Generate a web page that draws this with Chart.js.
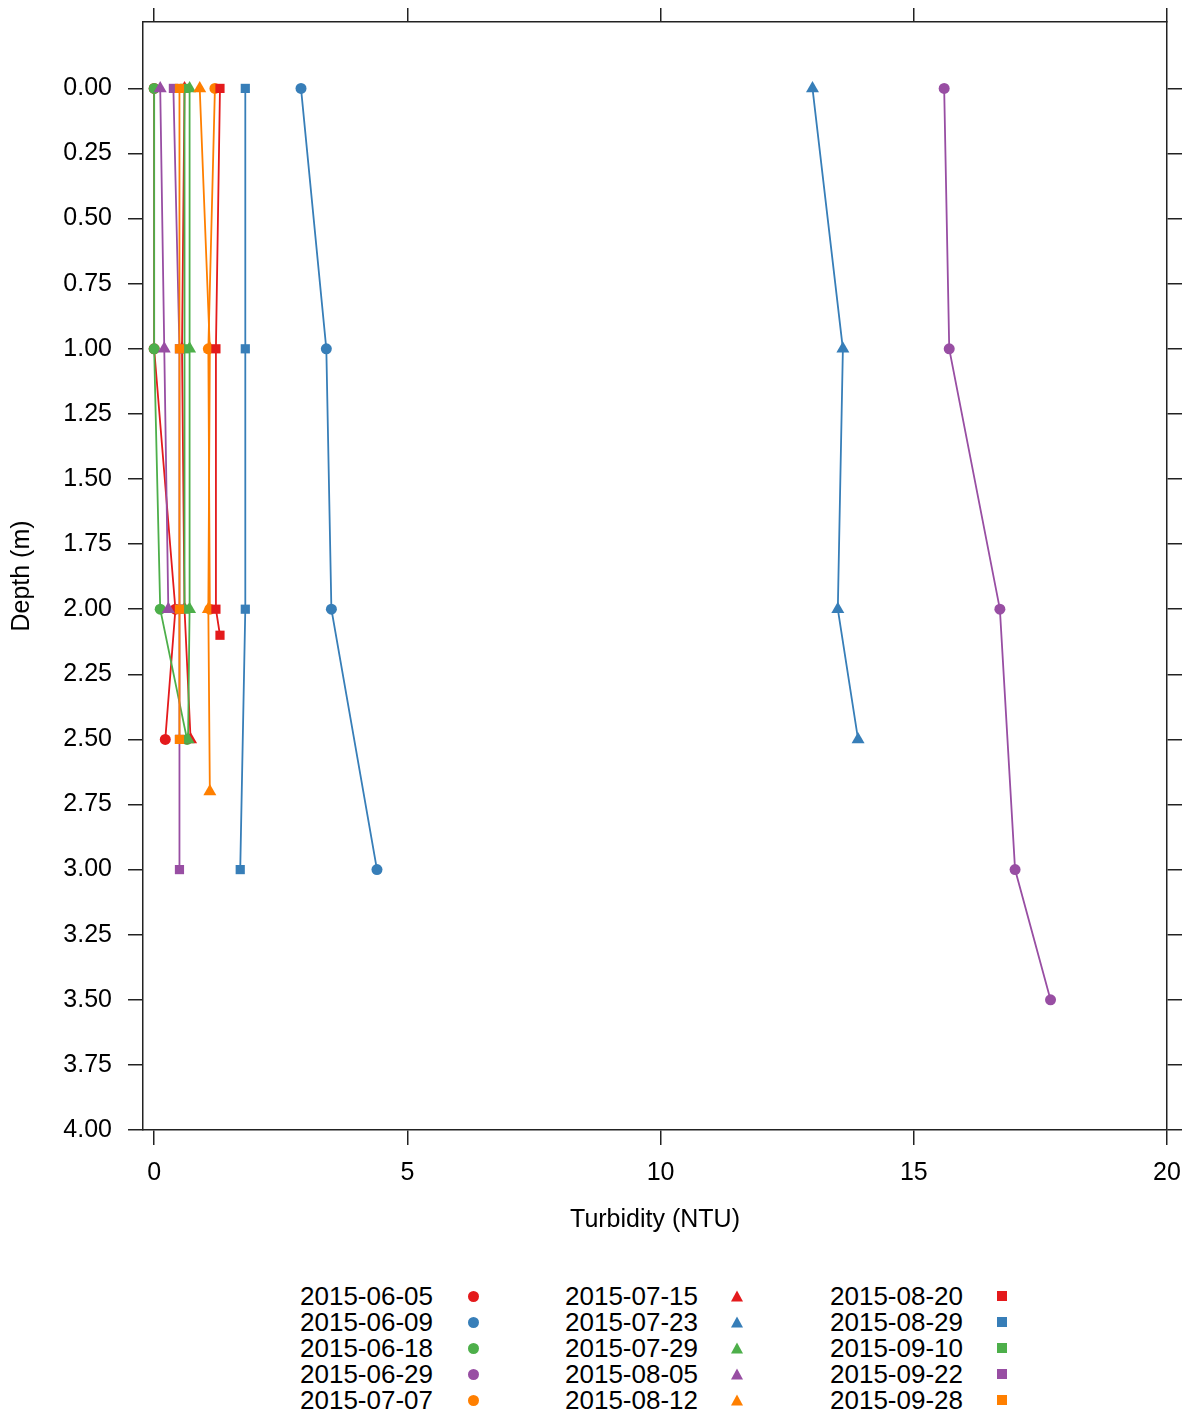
<!DOCTYPE html>
<html>
<head>
<meta charset="utf-8">
<script src="https://cdn.jsdelivr.net/npm/chart.js@4/dist/chart.umd.min.js"></script>
<style>
    body { margin: 0; background: #fff; }
    #page { position: relative; width: 1189px; height: 1416px; font-family: "Liberation Sans", Arial, sans-serif; }
    #chart { position: absolute; left: 0; top: 0; }
    .leg-text { position: absolute; left: 0; text-align: right; font-size: 26px; line-height: 26px; color: #000; white-space: nowrap; }
    .leg-mark { position: absolute; }
</style>
</head>
<body>
<div id="page">
    <canvas id="chart" width="1189" height="1250"></canvas>
    <div id="legend"></div>
</div>
<script>
const dates = [
    '2015-06-05', '2015-06-09', '2015-06-18', '2015-06-29', '2015-07-07',
    '2015-07-15', '2015-07-23', '2015-07-29', '2015-08-05', '2015-08-12',
    '2015-08-20', '2015-08-29', '2015-09-10', '2015-09-22', '2015-09-28'
];

const depth0605 = [0, 1, 2, 2.5];
const turb0605 = [0.0, 0.0, 0.42, 0.22];
const depth0609 = [0, 1, 2, 3];
const turb0609 = [2.9, 3.4, 3.5, 4.4];
const depth0618 = [0, 1, 2, 2.5];
const turb0618 = [0.0, 0.0, 0.12, 0.65];
const depth0629 = [0, 1, 2, 3, 3.5];
const turb0629 = [15.6, 15.7, 16.7, 17.0, 17.7];
const depth0707 = [0, 1, 2];
const turb0707 = [1.2, 1.07, 1.1];
const depth0715 = [0, 1, 2, 2.5];
const turb0715 = [0.6, 0.55, 0.6, 0.72];
const depth0723 = [0, 1, 2, 2.5];
const turb0723 = [13.0, 13.6, 13.5, 13.9];
const depth0729 = [0, 1, 2, 2.5];
const turb0729 = [0.7, 0.7, 0.7, 0.67];
const depth0805 = [0, 1, 2];
const turb0805 = [0.12, 0.2, 0.28];
const depth0812 = [0, 1, 2, 2.7];
const turb0812 = [0.9, 1.1, 1.07, 1.1];
const depth0820 = [0, 1, 2, 2.1];
const turb0820 = [1.3, 1.22, 1.22, 1.3];
const depth0829 = [0, 1, 2, 3];
const turb0829 = [1.8, 1.8, 1.8, 1.7];
const depth0910 = [0, 1, 2];
const turb0910 = [0.6, 0.6, 0.6];
const depth0922 = [0, 1, 2, 2.5, 3];
const turb0922 = [0.38, 0.5, 0.5, 0.5, 0.5];
const depth0928 = [0, 1, 2, 2.5];
const turb0928 = [0.5, 0.5, 0.5, 0.5];

const xTicks = [0, 5, 10, 15, 20];
const yTicks = [0, 0.25, 0.5, 0.75, 1, 1.25, 1.5, 1.75, 2, 2.25, 2.5, 2.75, 3, 3.25, 3.5, 3.75, 4];

const depths = [depth0605, depth0609, depth0618, depth0629, depth0707, depth0715, depth0723, depth0729,
    depth0805, depth0812, depth0820, depth0829, depth0910, depth0922, depth0928];
const turbs = [turb0605, turb0609, turb0618, turb0629, turb0707, turb0715, turb0723, turb0729,
    turb0805, turb0812, turb0820, turb0829, turb0910, turb0922, turb0928];

const palette = ['#E41A1C', '#377EB8', '#4DAF4A', '#984EA3', '#FF7F00'];
const shapes = ['circle', 'triangle', 'rect'];
const radii = { circle: 5.5, triangle: 7.5, rect: 6.5 };

const FONT = 'Liberation Sans';
const INK = '#222';

function setTicks(list) {
    return scale => { scale.ticks = list.map(v => ({ value: v })); };
}

// force a fixed axis thickness and drop the label overflow padding
function fixSize(prop, px) {
    return s => {
        s[prop] = px;
        s.paddingLeft = 0; s.paddingRight = 0; s.paddingTop = 0; s.paddingBottom = 0;
    };
}

function buildDatasets() {
    return dates.map((d, i) => {
        const color = palette[i % 5];
        const shape = shapes[Math.floor(i / 5)];
        return {
            label: d,
            data: depths[i].map((dep, k) => ({ x: turbs[i][k], y: dep })),
            showLine: true,
            borderColor: color,
            backgroundColor: color,
            borderWidth: 1.8,
            pointStyle: shape,
            pointRadius: radii[shape],
            pointBorderWidth: 0,
            order: -i
        };
    });
}

function renderLegend() {
    const box = document.getElementById('legend');
    const textRight = [433, 698, 963];
    const markX = [473, 737, 1002];
    const rowY = [1296, 1322, 1348, 1374, 1400];
    dates.forEach((d, i) => {
        const col = Math.floor(i / 5), row = i % 5;
        const color = palette[i % 5];
        const shape = shapes[col];

        const t = document.createElement('div');
        t.className = 'leg-text';
        t.style.width = textRight[col] + 'px';
        t.style.top = (rowY[row] - 13) + 'px';
        t.textContent = d;
        box.appendChild(t);

        const m = document.createElement('div');
        m.className = 'leg-mark';
        const s = shape === 'rect' ? 10 : (shape === 'triangle' ? 12 : 11);
        m.style.width = s + 'px';
        m.style.height = s + 'px';
        m.style.left = (markX[col] - s / 2) + 'px';
        m.style.top = (rowY[row] - s / 2) + 'px';
        m.style.background = color;
        if (shape === 'circle') m.style.borderRadius = '50%';
        if (shape === 'triangle') m.style.clipPath = 'polygon(50% 5%, 100% 95%, 0 95%)';
        box.appendChild(m);
    });
}

const gridOpts = (len) => ({ drawOnChartArea: false, drawTicks: true, tickLength: len, color: INK, lineWidth: 1.5 });
const borderOpts = { display: true, color: INK, width: 1.5 };

new Chart(document.getElementById('chart'), {
    type: 'scatter',
    data: { datasets: buildDatasets() },
    options: {
        responsive: false,
        animation: false,
        layout: { padding: 0 },
        plugins: { legend: { display: false }, tooltip: { enabled: false } },
        scales: {
            x: {
                type: 'linear', position: 'bottom', min: -0.22, max: 20,
                afterBuildTicks: setTicks(xTicks),
                afterFit: fixSize('height', 120),
                grid: gridOpts(15), border: borderOpts,
                ticks: { color: '#000', font: { family: FONT, size: 25 }, padding: 13, maxRotation: 0 },
                title: { display: true, text: 'Turbidity (NTU)', color: '#000', font: { family: FONT, size: 25 }, padding: { top: 0, bottom: 15 } }
            },
            x2: {
                type: 'linear', position: 'top', min: -0.22, max: 20,
                afterBuildTicks: setTicks(xTicks),
                afterFit: fixSize('height', 22),
                grid: gridOpts(14), border: borderOpts,
                ticks: { display: false }
            },
            y: {
                type: 'linear', position: 'left', reverse: true, min: -0.255, max: 4,
                afterBuildTicks: setTicks(yTicks),
                afterFit: fixSize('width', 143),
                grid: gridOpts(15), border: borderOpts,
                ticks: { color: '#000', font: { family: FONT, size: 25 }, padding: 16, callback: v => v.toFixed(2) },
                title: { display: true, text: 'Depth (m)', color: '#000', font: { family: FONT, size: 25 }, padding: { top: 7, bottom: 0 } }
            },
            y2: {
                type: 'linear', position: 'right', reverse: true, min: -0.255, max: 4,
                afterBuildTicks: setTicks(yTicks),
                afterFit: fixSize('width', 22),
                grid: gridOpts(15), border: borderOpts,
                ticks: { display: false }
            }
        }
    }
});

renderLegend();
</script>
</body>
</html>
